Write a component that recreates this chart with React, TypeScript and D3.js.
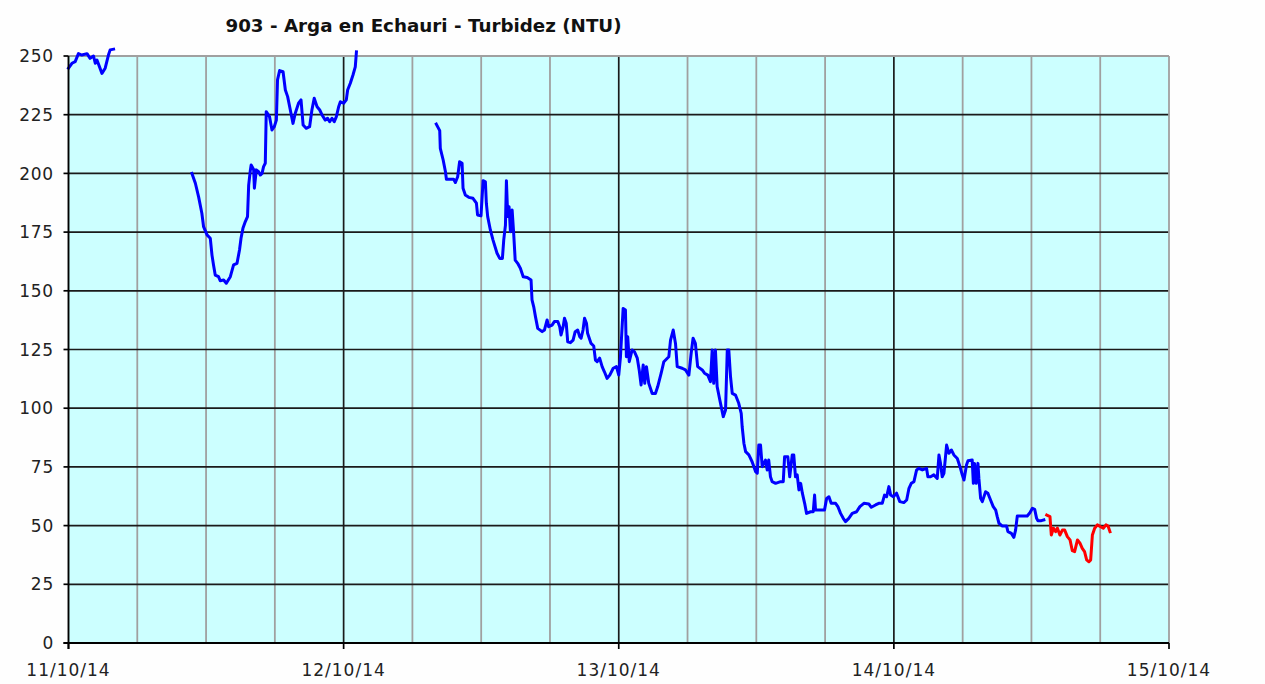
import React from "react";
import * as d3 from "d3";

const TITLE = "903 - Arga en Echauri - Turbidez (NTU)";
const START = new Date(2014, 9, 11, 0, 0);
const END = new Date(2014, 9, 15, 0, 0);
const yTickValues = [0, 25, 50, 75, 100, 125, 150, 175, 200, 225, 250];
const dayLabels = ["11/10/14", "12/10/14", "13/10/14", "14/10/14", "15/10/14"];

// hours after 11/10/14 00:00 and turbidity (NTU)
const seg1Hours = [0, 0.3, 0.58, 0.87, 1.17, 1.61, 1.89, 2.18, 2.33, 2.48, 2.91, 3.2, 3.49, 3.64, 3.93];
const seg1Values = [244.8, 246.9, 247.6, 251, 250.4, 251, 249, 250, 246.9, 248.3, 242.6, 244.8, 250.4, 252.6, 252.9];

const seg2Hours = [
  10.77, 11.06, 11.35, 11.64, 11.78, 12.08, 12.37, 12.51, 12.65, 12.8, 13.09, 13.24, 13.53, 13.76, 14.11, 14.4,
  14.7, 14.92, 15.05, 15.22, 15.42, 15.62, 15.71, 15.86, 15.94, 16.15, 16.21, 16.38, 16.58, 16.73, 16.88, 17.02,
  17.17, 17.25, 17.54, 17.75, 17.95, 18.13, 18.24, 18.41, 18.71, 18.91, 19.11, 19.35, 19.58, 19.78, 20.07, 20.28,
  20.46, 20.74, 21.03, 21.24, 21.44, 21.68, 21.91, 22.11, 22.4, 22.6, 22.78, 22.99, 23.19, 23.36, 23.56, 23.71,
  24.0, 24.24, 24.35, 24.58, 24.82, 25.02, 25.11,
];
const seg2Values = [
  200, 195.8, 190, 183, 177.3, 173.8, 172.4, 165.2, 161, 156.7, 156, 154.3, 154.6, 153.2, 156, 161,
  161.7, 167.4, 172.4, 176.6, 179.4, 181.6, 195, 201.5, 203.6, 201.7, 193.7, 201.5, 200.7, 199.3, 200, 202.9,
  204.3, 226.3, 224.2, 218.5, 219.9, 222.7, 239.8, 243.8, 243.3, 235.5, 232.7, 227, 221.3, 225.6, 229.9, 231.3,
  220.6, 219.2, 219.9, 227, 232, 228.4, 227, 224.9, 222.7, 223.5, 222, 223.5, 222, 224.2, 228.4, 230.5,
  229.9, 231.3, 235.5, 238.4, 241.9, 245.4, 251.8,
];

const seg3Hours = [
  32.09, 32.38, 32.44, 32.68, 32.88, 32.96, 33.6, 33.75, 33.95, 34.12, 34.33, 34.42, 34.62, 34.91, 35.29, 35.58,
  35.69, 35.99, 36.17, 36.37, 36.45, 36.57, 36.8, 37.04, 37.39, 37.61, 37.85, 37.96, 38.11, 38.2, 38.31, 38.43,
  38.55, 38.7, 38.84, 38.96, 39.19, 39.42, 39.66, 40.01, 40.35, 40.44, 40.58, 40.73, 40.93, 41.32, 41.52, 41.75,
  41.89, 42.19, 42.39, 42.68, 42.85, 42.97, 43.15, 43.26, 43.41, 43.55, 43.78, 44.02, 44.2, 44.42, 44.6, 44.72,
  44.89, 45.01, 45.18, 45.29, 45.59, 45.82, 45.97, 46.12, 46.34, 46.55, 46.75, 46.99, 47.21, 47.51, 47.8, 48.0,
  48.15, 48.38, 48.58, 48.67, 48.79, 48.91, 49.17, 49.37, 49.61, 49.78, 49.95, 50.13, 50.27, 50.42, 50.62, 50.91,
  51.2, 51.4, 51.7, 51.93, 52.36, 52.51, 52.75, 52.95, 53.1, 53.53, 53.82, 54.11, 54.32, 54.49, 54.69, 54.89,
  55.28, 55.48, 55.77, 56.0, 56.15, 56.29, 56.44, 56.59, 56.81, 57.11, 57.31, 57.46, 57.6, 57.75, 57.9, 58.18,
  58.47, 58.68, 58.77, 58.91, 59.06, 59.35, 59.64, 59.93, 60.08, 60.22, 60.37, 60.51, 60.8, 60.95, 61.09, 61.24,
  61.39, 61.68, 62.11, 62.35, 62.46, 62.75, 62.92, 63.13, 63.27, 63.42, 63.57, 63.71, 63.86, 64.01, 64.21, 64.38,
  64.73, 64.97, 65.08, 65.17, 65.54, 65.95, 66.13, 66.33, 66.54, 66.91, 67.11, 67.35, 67.58, 67.79, 68.07, 68.37,
  68.75, 69.03, 69.38, 69.82, 70.03, 70.4, 70.69, 70.99, 71.19, 71.36, 71.56, 71.71, 71.95, 72.24, 72.52, 72.87,
  73.11, 73.31, 73.52, 73.75, 73.98, 74.18, 74.48, 74.85, 74.97, 75.2, 75.49, 75.79, 75.93, 76.07, 76.22, 76.36,
  76.6, 76.8, 77.01, 77.24, 77.53, 77.76, 77.97, 78.11, 78.34, 78.46, 78.84, 78.93, 79.04, 79.19, 79.33, 79.42,
  79.57, 79.71, 80.0, 80.2, 80.44, 80.67, 80.88, 81.02, 81.16, 81.46, 81.84, 81.95, 82.25, 82.47, 82.62, 82.77,
  83.21, 83.64, 83.87, 84.08, 84.28, 84.45, 84.57, 84.86, 85.09,
];
const seg3Values = [
  221, 218.2, 210.7, 205.7, 200.7, 197.5, 197.5, 196.1, 198.6, 205, 204.3, 193.7, 190.8, 189.8, 189.4, 187.3,
  182.3, 181.9, 196.9, 196.4, 187.3, 181.6, 175.9, 171.6, 166, 163.8, 163.8, 171.6, 178, 196.9, 181.6, 185.8,
  175.2, 184.4, 174.5, 163.1, 161.7, 159.6, 156, 155.7, 154.6, 146.1, 143.2, 139, 134, 132.6, 133.3, 137.6,
  134.7, 135.4, 136.9, 136.9, 134.7, 131.2, 134.7, 138.3, 136.2, 128.3, 127.9, 129, 132.6, 133.3, 130.4, 129.8,
  133.3, 138.3, 136.2, 131.9, 127.6, 126.5, 120.5, 119.8, 121.3, 117.7, 115.5, 112.7, 114.1, 117, 117.7, 114.1,
  121.9, 142.5, 141.8, 121.9, 130.4, 119.8, 124.8, 124.1, 121.3, 116.3, 109.9, 118.4, 110.6, 117.7, 110.6, 106.3,
  106.3, 109.2, 114.9, 119.8, 121.9, 129, 133.3, 127.6, 117.7, 117, 116.3, 114.1, 123.4, 129.8, 127.6, 117.7,
  116.3, 114.9, 114.1, 111.3, 124.8, 110.6, 124.8, 109.2, 103.5, 96.4, 99.2, 124.8, 124.8, 113.4, 106.3, 105.6,
  102.1, 97.8, 92.1, 85.1, 81.5, 80.1, 77.2, 73, 72.3, 84.3, 84.3, 75.1, 77.9, 73.7, 77.9, 70.8,
  68.7, 68, 68.7, 68.7, 79.3, 79.3, 70.8, 80.1, 80.1, 70.8, 71.6, 65.2, 68, 63.8, 59.5, 55.2,
  55.9, 55.9, 63, 56.6, 56.6, 56.6, 61.6, 62.3, 59.5, 59.5, 58.1, 55.2, 53.1, 51.7, 53.1, 55.2,
  55.9, 58.1, 59.5, 59.2, 57.8, 58.8, 59.5, 59.5, 63, 62.3, 66.6, 63, 62.3, 63.8, 60.2, 59.8,
  60.9, 65.9, 68, 68.7, 73.7, 74.4, 73.7, 74.4, 70.8, 70.8, 71.6, 70.1, 80.1, 76.5, 70.8, 72.3,
  84.3, 80.8, 82.2, 80.1, 78.6, 75.1, 71.6, 69.4, 75.8, 77.6, 77.9, 68, 76.5, 68, 76.5, 70.1,
  61.6, 60.2, 64.4, 63.8, 60.9, 58.1, 56.6, 53.8, 51, 49.8, 49.8, 47.4, 46.7, 45, 48.1, 54.1,
  54.1, 54.1, 55.5, 57.4, 56.9, 53.1, 52.1, 52.1, 52.4,
];

const redHours = [
  85.33, 85.61, 85.74, 85.91, 86.11, 86.26, 86.49, 86.7, 86.9, 87.13, 87.36, 87.57, 87.77, 88.01, 88.23, 88.44,
  88.64, 88.82, 89.02, 89.17, 89.31, 89.51, 89.75, 90.04, 90.27, 90.5, 90.68, 90.85,
];
const redValues = [
  54.5, 53.8, 46, 48.9, 47.4, 48.9, 46, 48.1, 48.1, 45.3, 43.9, 39.3, 38.9, 43.9, 42.5, 40.3,
  38.9, 35.4, 34.6, 35.4, 46, 48.9, 50.3, 49.5, 48.9, 50.3, 49.8, 47.4,
];

const seriesList = [
  { hours: seg1Hours, values: seg1Values, color: "#0000ff" },
  { hours: seg2Hours, values: seg2Values, color: "#0000ff" },
  { hours: seg3Hours, values: seg3Values, color: "#0000ff" },
  { hours: redHours, values: redValues, color: "#ff0000" },
];

const W = 1265;
const H = 684;
const M = { left: 68.5, right: 1169, top: 56, bottom: 643 };
const FONT = "'DejaVu Sans', Verdana, sans-serif";

export default function App() {
  const x = d3.scaleTime().domain([START, END]).range([M.left, M.right]);
  const y = d3.scaleLinear().domain([0, 250]).range([M.bottom, M.top]);
  const toDate = (h: number) => d3.timeMinute.offset(START, Math.round(h * 60));

  const sixHourTicks = d3.timeHour.every(6)!.range(START, d3.timeHour.offset(END, 1));
  const dayTicks = d3.timeDay.range(START, d3.timeHour.offset(END, 1));

  const line = d3
    .line<[number, number]>()
    .x((d) => x(toDate(d[0])))
    .y((d) => y(d[1]));

  return (
    <div>
      <style>{`body{margin:0;background:#fff}`}</style>
      <svg width={W} height={H} style={{ display: "block" }} fontFamily={FONT}>
        <rect x={0} y={0} width={W} height={H} fill="#fefefe" />
        <text
          x={423.5}
          y={32}
          textAnchor="middle"
          fontWeight="bold"
          fontSize={18.3}
          fill="#111"
        >
          {TITLE}
        </text>
        <rect
          x={M.left}
          y={M.top}
          width={M.right - M.left}
          height={M.bottom - M.top}
          fill="#ccffff"
        />
        {/* 6-hour gray gridlines */}
        {sixHourTicks
          .filter((t) => t.getHours() !== 0)
          .map((t, i) => (
            <line
              key={"g" + i}
              x1={x(t)}
              x2={x(t)}
              y1={M.top}
              y2={M.bottom}
              stroke="#a0a0a0"
              strokeWidth={1.8}
            />
          ))}
        {/* horizontal gridlines */}
        {yTickValues
          .filter((v) => v > 0 && v < 250)
          .map((v) => (
            <line
              key={"h" + v}
              x1={M.left}
              x2={M.right}
              y1={y(v)}
              y2={y(v)}
              stroke="#1a1a1a"
              strokeWidth={1.7}
            />
          ))}
        {/* day gridlines */}
        {dayTicks.slice(1, -1).map((t, i) => (
          <line
            key={"d" + i}
            x1={x(t)}
            x2={x(t)}
            y1={M.top}
            y2={M.bottom}
            stroke="#1a1a1a"
            strokeWidth={1.7}
          />
        ))}
        {/* border top and right (gray) */}
        <line x1={M.left} x2={M.right} y1={M.top} y2={M.top} stroke="#a0a0a0" strokeWidth={1.8} />
        <line x1={M.right} x2={M.right} y1={M.top} y2={M.bottom} stroke="#a0a0a0" strokeWidth={1.8} />
        {/* series */}
        {seriesList.map((s, i) => (
          <path
            key={"s" + i}
            d={line(s.hours.map((h, j) => [h, s.values[j]] as [number, number])) || ""}
            fill="none"
            stroke={s.color}
            strokeWidth={3}
            strokeLinejoin="round"
            strokeLinecap="square"
          />
        ))}
        {/* axes */}
        <line x1={M.left} x2={M.left} y1={M.top} y2={M.bottom + 6} stroke="#000" strokeWidth={1.9} />
        <line x1={M.left - 5} x2={M.right} y1={M.bottom} y2={M.bottom} stroke="#000" strokeWidth={1.9} />
        {yTickValues.map((v) => (
          <g key={"yt" + v}>
            <line x1={M.left - 5} x2={M.left} y1={y(v)} y2={y(v)} stroke="#000" strokeWidth={1.7} />
            <text
              x={54}
              y={y(v)}
              dy="0.36em"
              textAnchor="end"
              fontSize={17}
              letterSpacing={0.8}
              fill="#222"
            >
              {v}
            </text>
          </g>
        ))}
        {dayTicks.map((t, i) => (
          <g key={"xt" + i}>
            <line x1={x(t)} x2={x(t)} y1={M.bottom} y2={M.bottom + 6} stroke="#000" strokeWidth={1.7} />
            <text
              x={x(t)}
              y={676}
              textAnchor="middle"
              fontSize={17}
              letterSpacing={1}
              fill="#222"
            >
              {dayLabels[i]}
            </text>
          </g>
        ))}
      </svg>
    </div>
  );
}
